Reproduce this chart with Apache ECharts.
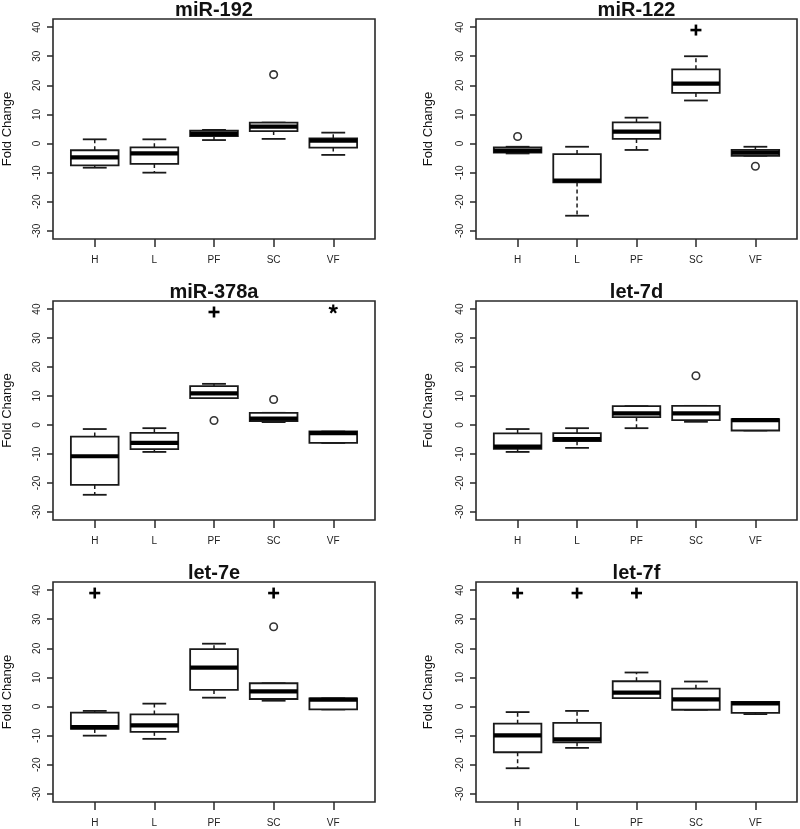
<!DOCTYPE html>
<html>
<head>
<meta charset="utf-8">
<script src="https://cdn.jsdelivr.net/npm/echarts@6/dist/echarts.min.js"></script>
<style>
html,body{margin:0;padding:0;background:#fff;}
#chart{width:800px;height:829px;}
</style>
</head>
<body>
<div id="chart"></div>
<script>
// ---- data (each box: [min, Q1, median, Q3, max]) ----
const categories = ['H', 'L', 'PF', 'SC', 'VF'];
const yTicks = [-30, -20, -10, 0, 10, 20, 30, 40];
const titles = ['miR-192', 'miR-122', 'miR-378a', 'let-7d', 'let-7e', 'let-7f'];

const miR192 = [
  [-8.3, -7.5, -4.75, -2.3, 1.45],
  [-10.0, -7.0, -3.4, -1.3, 1.45],
  [1.2, 2.6, 3.3, 4.4, 4.7],
  [1.6, 4.3, 5.8, 7.2, 7.2],
  [-3.9, -1.4, 1.0, 1.8, 3.75]
];
const miR192Outliers = [['SC', 23.7]];
const miR192Plus = [];
const miR192Star = [];

const miR122 = [
  [-3.4, -3.1, -2.45, -1.3, -1.1],
  [-24.8, -13.35, -12.7, -3.6, -1.1],
  [-2.2, 1.6, 4.1, 7.3, 8.9],
  [14.8, 17.4, 20.6, 25.5, 30.0],
  [-4.2, -4.2, -3.1, -2.2, -1.1]
];
const miR122Outliers = [['H', 2.4], ['VF', -7.8]];
const miR122Plus = [['SC', 39]];
const miR122Star = [];

const miR378a = [
  [-24.1, -20.7, -10.8, -4.0, -1.4],
  [-9.3, -8.35, -6.2, -2.7, -1.1],
  [9.3, 9.3, 10.9, 13.4, 14.2],
  [1.0, 1.3, 2.2, 4.2, 4.2],
  [-6.2, -6.2, -2.8, -2.25, -2.25]
];
const miR378aOutliers = [['PF', 1.55], ['SC', 8.8]];
const miR378aPlus = [['PF', 39]];
const miR378aStar = [['VF', 40]];

const let7d = [
  [-9.3, -8.2, -7.5, -2.9, -1.4],
  [-7.9, -5.6, -4.9, -2.8, -1.1],
  [-1.1, 2.7, 4.0, 6.5, 6.5],
  [1.1, 1.7, 4.0, 6.6, 6.6],
  [-1.9, -1.9, 1.7, 2.0, 2.0]
];
const let7dOutliers = [['SC', 17.0]];
const let7dPlus = [];
const let7dStar = [];

const let7e = [
  [-10.0, -7.7, -7.05, -2.1, -1.5],
  [-11.1, -8.7, -6.5, -2.7, 1.0],
  [3.05, 5.7, 13.4, 19.7, 21.6],
  [2.0, 2.6, 5.2, 8.0, 8.0],
  [-1.0, -1.0, 2.4, 2.8, 2.8]
];
const let7eOutliers = [['SC', 27.4]];
const let7ePlus = [['H', 39], ['SC', 39]];
const let7eStar = [];

const let7f = [
  [-21.2, -15.7, -9.9, -5.9, -1.9],
  [-14.2, -12.3, -11.3, -5.6, -1.5],
  [2.9, 2.9, 4.8, 8.7, 11.7],
  [-1.1, -1.1, 2.5, 6.15, 8.6],
  [-2.6, -2.2, 1.1, 1.6, 1.6]
];
const let7fOutliers = [];
const let7fPlus = [['H', 39], ['L', 39], ['PF', 39]];
const let7fStar = [];

const panels = [
  { title: titles[0], boxes: miR192, outliers: miR192Outliers, plus: miR192Plus, star: miR192Star },
  { title: titles[1], boxes: miR122, outliers: miR122Outliers, plus: miR122Plus, star: miR122Star },
  { title: titles[2], boxes: miR378a, outliers: miR378aOutliers, plus: miR378aPlus, star: miR378aStar },
  { title: titles[3], boxes: let7d, outliers: let7dOutliers, plus: let7dPlus, star: let7dStar },
  { title: titles[4], boxes: let7e, outliers: let7eOutliers, plus: let7ePlus, star: let7eStar },
  { title: titles[5], boxes: let7f, outliers: let7fOutliers, plus: let7fPlus, star: let7fStar }
];

// ---- layout ----
const colLeft = [53, 476];
const colWidth = [322, 321];
const rowTop = [19, 301, 582];
const rowHeight = [220, 219, 220];
const nameGaps = [39, 41];
const titleY = [10, 292, 573];

const INK = '#1a1a1a';
const FONT = '"Liberation Sans", Arial, Helvetica, sans-serif';

function catX(name) { return categories.indexOf(name) + 1; }

function renderBox(params, api) {
  const x = api.value(0);
  const mn = api.value(1), q1 = api.value(2), md = api.value(3), q3 = api.value(4), mx = api.value(5);
  const hw = 0.4, sw = 0.2;
  const left = api.coord([x - hw, q3]);
  const right = api.coord([x + hw, q1]);
  const cx = api.coord([x, md])[0];
  const yMin = api.coord([x, mn])[1];
  const yMax = api.coord([x, mx])[1];
  const yMed = api.coord([x, md])[1];
  const sL = api.coord([x - sw, mn])[0];
  const sR = api.coord([x + sw, mn])[0];
  const dash = { stroke: INK, lineWidth: 1.5, lineDash: [4, 3], fill: null };
  const solid = { stroke: INK, lineWidth: 1.8, fill: null };
  return {
    type: 'group',
    children: [
      { type: 'line', shape: { x1: cx, y1: left[1], x2: cx, y2: yMax }, style: dash },
      { type: 'line', shape: { x1: cx, y1: right[1], x2: cx, y2: yMin }, style: dash },
      { type: 'line', shape: { x1: sL, y1: yMax, x2: sR, y2: yMax }, style: solid },
      { type: 'line', shape: { x1: sL, y1: yMin, x2: sR, y2: yMin }, style: solid },
      { type: 'rect', shape: { x: left[0], y: left[1], width: right[0] - left[0], height: right[1] - left[1] },
        style: { fill: '#fff', stroke: INK, lineWidth: 1.8 } },
      { type: 'line', shape: { x1: left[0], y1: yMed, x2: right[0], y2: yMed }, style: { stroke: '#000', lineWidth: 4.2 } }
    ]
  };
}

function renderPlus(params, api) {
  const p = api.coord([api.value(0), api.value(1)]);
  const h = 5.5;
  const st = { stroke: '#000', lineWidth: 2.6 };
  return {
    type: 'group',
    children: [
      { type: 'line', shape: { x1: p[0] - h, y1: p[1], x2: p[0] + h, y2: p[1] }, style: st },
      { type: 'line', shape: { x1: p[0], y1: p[1] - h, x2: p[0], y2: p[1] + h }, style: st }
    ]
  };
}

function renderStar(params, api) {
  const p = api.coord([api.value(0), api.value(1)]);
  const r = 4.6;
  const children = [];
  for (let k = 0; k < 5; k++) {
    const a = (-90 + k * 72) * Math.PI / 180;
    children.push({ type: 'line', shape: { x1: p[0], y1: p[1], x2: p[0] + r * Math.cos(a), y2: p[1] + r * Math.sin(a) },
      style: { stroke: '#000', lineWidth: 2.2 } });
  }
  return { type: 'group', children };
}

const grid = [], xAxis = [], yAxis = [], series = [], title = [];
panels.forEach((pn, i) => {
  const col = i % 2, row = Math.floor(i / 2);
  grid.push({
    left: colLeft[col], top: rowTop[row], width: colWidth[col], height: rowHeight[row],
    show: true, borderColor: '#2a2a2a', borderWidth: 1.6, backgroundColor: 'transparent', containLabel: false
  });
  title.push({
    text: pn.title,
    left: colLeft[col] + colWidth[col] / 2,
    top: titleY[row] - 10,
    textAlign: 'center',
    padding: 0,
    textStyle: { fontFamily: FONT, fontSize: 20, fontWeight: 'bold', color: '#111' }
  });
  xAxis.push({
    type: 'value', gridIndex: i, min: 0.3, max: 5.7, position: 'bottom',
    axisLine: { show: false, onZero: false },
    splitLine: { show: false },
    axisTick: { show: true, length: 8, customValues: [1, 2, 3, 4, 5], lineStyle: { color: '#2a2a2a', width: 1.5 } },
    axisLabel: {
      customValues: [1, 2, 3, 4, 5], margin: 16,
      formatter: v => categories[Math.round(v) - 1] || '',
      fontFamily: FONT, fontSize: 10, color: '#222'
    }
  });
  yAxis.push({
    type: 'value', gridIndex: i, min: -32.8, max: 42.8, position: 'left',
    name: 'Fold Change', nameLocation: 'middle', nameGap: nameGaps[col],
    nameTextStyle: { fontFamily: FONT, fontSize: 13, color: '#111' },
    axisLine: { show: false, onZero: false },
    splitLine: { show: false },
    axisTick: { show: true, length: 6, customValues: yTicks, lineStyle: { color: '#2a2a2a', width: 1.5 } },
    axisLabel: {
      customValues: yTicks, rotate: 90, margin: 11,
      fontFamily: FONT, fontSize: 10, color: '#222'
    }
  });
  series.push({
    type: 'custom', xAxisIndex: i, yAxisIndex: i,
    renderItem: renderBox,
    encode: { x: 0, y: [1, 2, 3, 4, 5] },
    data: pn.boxes.map((b, k) => [k + 1].concat(b)),
    silent: true, clip: false
  });
  if (pn.outliers.length) {
    series.push({
      type: 'scatter', xAxisIndex: i, yAxisIndex: i,
      symbol: 'circle', symbolSize: 7.5,
      itemStyle: { color: '#fff', borderColor: '#000', borderWidth: 1.6 },
      data: pn.outliers.map(o => [catX(o[0]), o[1]]),
      silent: true
    });
  }
  if (pn.plus.length) {
    series.push({
      type: 'custom', xAxisIndex: i, yAxisIndex: i,
      renderItem: renderPlus, encode: { x: 0, y: 1 },
      data: pn.plus.map(o => [catX(o[0]), o[1]]), silent: true
    });
  }
  if (pn.star.length) {
    series.push({
      type: 'custom', xAxisIndex: i, yAxisIndex: i,
      renderItem: renderStar, encode: { x: 0, y: 1 },
      data: pn.star.map(o => [catX(o[0]), o[1]]), silent: true
    });
  }
});

const chart = echarts.init(document.getElementById('chart'), null, { renderer: 'canvas' });
chart.setOption({
  backgroundColor: '#fff',
  animation: false,
  textStyle: { fontFamily: FONT },
  title, grid, xAxis, yAxis, series
});
</script>
</body>
</html>
